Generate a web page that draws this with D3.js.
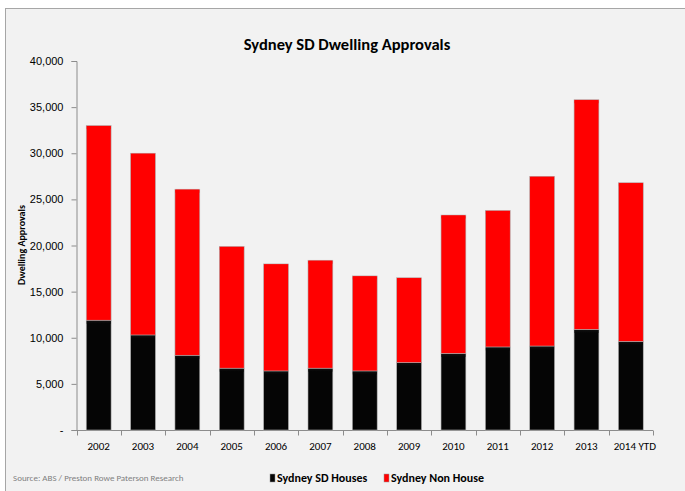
<!DOCTYPE html>
<html>
<head>
<meta charset="utf-8">
<script src="https://cdn.jsdelivr.net/npm/d3@7"></script>
<style>
  body { margin: 0; background: #fff; }
  svg { display: block; font-family: Carlito, Lato, "Liberation Sans", sans-serif; }
  .axis path, .axis line { stroke: #8c8c8c; }
  .axis text { fill: #000; font-size: 11px; }
</style>
</head>
<body>
<div id="chart"></div>
<script>
var years = ["2002", "2003", "2004", "2005", "2006", "2007", "2008", "2009", "2010", "2011", "2012", "2013", "2014 YTD"];
var houses = [11900, 10300, 8100, 6700, 6400, 6700, 6400, 7300, 8300, 9000, 9100, 10900, 9600];
var nonHouse = [21100, 19700, 18000, 13200, 11600, 11700, 10300, 9200, 15000, 14800, 18400, 24900, 17200];
var yTicks = [0, 5000, 10000, 15000, 20000, 25000, 30000, 35000, 40000];
var seriesNames = ["Sydney SD Houses", "Sydney Non House"];
var seriesColors = ["#050505", "#ff0000"];

var W = 685, H = 491;

var svg = d3.select("#chart").append("svg")
  .attr("width", W)
  .attr("height", H);

// gradients give the bars a little bevel at the top
var defs = svg.append("defs");
seriesColors.forEach(function(c, i){
  var g = defs.append("linearGradient")
    .attr("id", "grad" + i)
    .attr("x1", 0).attr("y1", 0).attr("x2", 0).attr("y2", 1);
  g.append("stop").attr("offset", 0).attr("stop-color", d3.color(c).brighter(i === 0 ? 3 : 0.6));
  g.append("stop").attr("offset", 1).attr("stop-color", c);
});

// frame
svg.append("rect")
  .attr("x", 5.5).attr("y", 8.5)
  .attr("width", W + 10).attr("height", H + 10)
  .attr("fill", "#f2f2f2")
  .attr("stroke", "#a6a6a6");

var x = d3.scaleBand()
  .domain(years)
  .range([76.5, 653])
  .paddingInner(0.44)
  .paddingOuter(0.22);

var y = d3.scaleLinear()
  .domain([0, 40000])
  .range([430, 61]);

var data = years.map(function(yr, i){
  return { year: yr, houses: houses[i], nonHouse: nonHouse[i] };
});
var stacked = d3.stack().keys(["houses", "nonHouse"])(data);

// title
svg.append("text")
  .attr("x", 347).attr("y", 50)
  .attr("text-anchor", "middle")
  .attr("font-size", "16.5px")
  .attr("font-weight", "bold")
  .text("Sydney SD Dwelling Approvals");

// axes
svg.append("g")
  .attr("class", "axis axis--y")
  .attr("transform", "translate(76.5,0)")
  .call(d3.axisLeft(y).tickValues(yTicks).tickSize(5).tickPadding(8)
    .tickFormat(function(d){ return d === 0 ? "-" : d3.format(",")(d); }));

var xAxis = svg.append("g")
  .attr("class", "axis axis--x")
  .attr("transform", "translate(0,430.5)");
xAxis.append("line")
  .attr("x1", 76.5).attr("x2", 653)
  .attr("stroke", "#8c8c8c");
xAxis.selectAll(".tk")
  .data(years.concat(["end"]))
  .enter().append("line")
  .attr("class", "tk")
  .attr("x1", function(d, i){ return Math.round(76.5 + i * x.step()) + 0.5; })
  .attr("x2", function(d, i){ return Math.round(76.5 + i * x.step()) + 0.5; })
  .attr("y1", 0).attr("y2", 5)
  .attr("stroke", "#8c8c8c");
xAxis.selectAll(".lbl")
  .data(years)
  .enter().append("text")
  .attr("class", "lbl")
  .attr("x", function(d){ return x(d) + x.bandwidth() / 2 + (d === "2014 YTD" ? 4 : 0); })
  .attr("y", 19)
  .attr("text-anchor", "middle")
  .attr("font-size", "11px")
  .text(function(d){ return d; });

// y axis title
svg.append("text")
  .attr("transform", "translate(25,245)rotate(-90)")
  .attr("text-anchor", "middle")
  .attr("font-size", "10px")
  .attr("font-weight", "bold")
  .text("Dwelling Approvals");

// bars
var layer = svg.selectAll(".layer")
  .data(stacked)
  .enter().append("g")
  .attr("class", "layer");

layer.selectAll(".bar")
  .data(function(d){ return d; })
  .enter().append("rect")
  .attr("class", "bar")
  .attr("x", function(d){ return x(d.data.year); })
  .attr("width", x.bandwidth())
  .attr("y", function(d){ return y(d[1]); })
  .attr("height", function(d){ return y(d[0]) - y(d[1]); })
  .attr("fill", function(d){ return seriesColors[stacked.indexOf(d3.select(this.parentNode).datum())]; })
  .attr("stroke", "#b0b0b0")
  .attr("stroke-width", 0.6);

// highlight strip at top of each segment
layer.selectAll(".cap")
  .data(function(d){ return d; })
  .enter().append("rect")
  .attr("class", "cap")
  .attr("x", function(d){ return x(d.data.year) + 0.5; })
  .attr("width", x.bandwidth() - 1)
  .attr("y", function(d){ return y(d[1]) + 0.5; })
  .attr("height", 3)
  .attr("fill", function(){ return "url(#grad" + stacked.indexOf(d3.select(this.parentNode).datum()) + ")"; });

// legend
var legend = svg.append("g").attr("class", "legend");
var legendX = [270, 384];
seriesNames.forEach(function(name, i){
  legend.append("rect")
    .attr("x", legendX[i]).attr("y", 474)
    .attr("width", 5).attr("height", 8)
    .attr("fill", seriesColors[i])
    .attr("stroke", "#999").attr("stroke-width", 0.5);
  legend.append("text")
    .attr("x", legendX[i] + 7).attr("y", 482)
    .attr("font-size", "12px")
    .attr("font-weight", "bold")
    .text(name);
});

// source
svg.append("text")
  .attr("x", 13).attr("y", 481)
  .attr("font-size", "9px")
  .attr("fill", "#7f7f7f")
  .text("Source: ABS / Preston Rowe Paterson Research");
</script>
</body>
</html>
